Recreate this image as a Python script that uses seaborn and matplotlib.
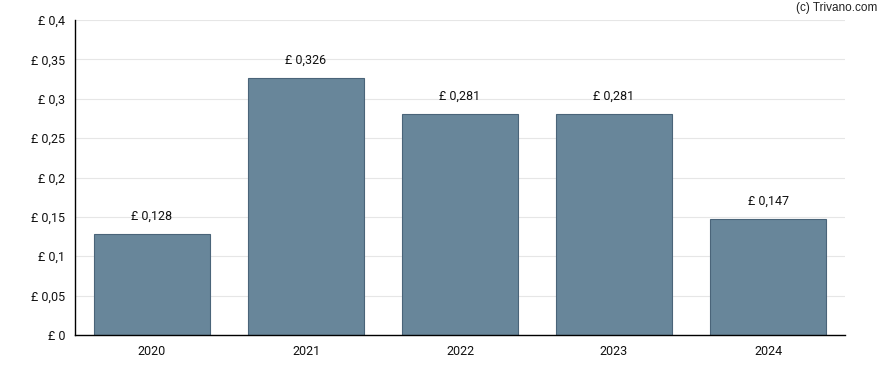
import matplotlib
matplotlib.use('Agg')
import matplotlib.pyplot as plt
import seaborn as sns
import pandas as pd
from matplotlib.ticker import FuncFormatter

# Data
years = ['2020', '2021', '2022', '2023', '2024']
dividends = [0.128, 0.326, 0.281, 0.281, 0.147]
y_ticks = [0, 0.05, 0.1, 0.15, 0.2, 0.25, 0.3, 0.35, 0.4]

sns.set_style('white')
plt.rcParams['font.family'] = ['Roboto', 'DejaVu Sans']
plt.rcParams['font.size'] = 9

df = pd.DataFrame({'Year': years, 'Dividend': dividends})

fig = plt.figure(figsize=(8.88, 3.70), dpi=100)
ax = fig.add_axes([75 / 888, 35 / 370, 770 / 888, 315 / 370])

sns.barplot(data=df, x='Year', y='Dividend', ax=ax, width=0.75,
            color='#68869a', edgecolor='#4a6479', linewidth=0.8,
            saturation=1)


def fmt_pound(v, pos=None):
    s = ('%.3f' % v).rstrip('0').rstrip('.')
    return '£ ' + s.replace('.', ',')


for i, v in enumerate(dividends):
    ax.annotate(fmt_pound(v), (i, v), xytext=(0, 8), textcoords='offset points',
                ha='center', va='bottom', fontsize=9, color='#111111')

ax.set_xlim(-0.5, 4.5)
ax.set_ylim(0, 0.4)
ax.set_yticks(y_ticks)
ax.yaxis.set_major_formatter(FuncFormatter(fmt_pound))
ax.grid(axis='y', color='#e6e6e6', linewidth=0.8)
ax.set_axisbelow(True)
ax.set_xlabel('')
ax.set_ylabel('')

for side in ['top', 'right']:
    ax.spines[side].set_visible(False)
for side in ['left', 'bottom']:
    ax.spines[side].set_color('black')
    ax.spines[side].set_linewidth(1.0)

ax.tick_params(axis='both', which='major', direction='out', length=4,
               width=0.8, color='black', labelsize=9, labelcolor='#111111', pad=3)

fig.text(877 / 888, 1 - 8 / 370, '(c) Trivano.com', ha='right', va='center',
         fontsize=8.5, family=['Liberation Sans', 'DejaVu Sans'], color='#222222')

plt.savefig('out.png', dpi=100)
plt.close()
